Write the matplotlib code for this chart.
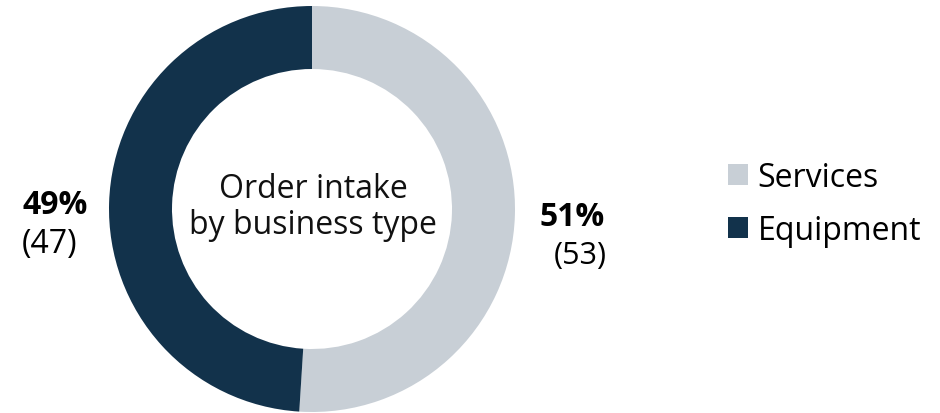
import matplotlib
matplotlib.use("Agg")
import matplotlib.pyplot as plt

labels = ["Services", "Equipment"]
shares = [51, 49]
prev_year = [53, 47]
colors = ["#c8cfd6", "#12324b"]

plt.rcParams["font.family"] = ["Open Sans", "DejaVu Sans"]

fig = plt.figure(figsize=(9.4, 4.14), dpi=100)
ax = fig.add_axes([0, 0, 1, 1])

wedges, _ = ax.pie(shares, center=(312, 204), radius=203, startangle=90,
                   counterclock=False, colors=colors,
                   wedgeprops=dict(width=63, linewidth=0))
ax.set_xlim(0, 940)
ax.set_ylim(0, 414)
ax.set_aspect("equal")
ax.axis("off")

# centre caption
ax.text(313, 207, "Order intake\nby business type", ha="center", va="center",
        fontsize=23, linespacing=1.12, color="#111111")

# share labels
ax.text(605, 196, f"{shares[0]}%", ha="right", va="center", fontsize=23, fontweight="bold")
ax.text(607, 158, f"({prev_year[0]})", ha="right", va="center", fontsize=22)
ax.text(22, 209, f"{shares[1]}%", ha="left", va="center", fontsize=23, fontweight="bold")
ax.text(22, 169, f"({prev_year[1]})", ha="left", va="center", fontsize=23)

leg = ax.legend(wedges, labels, loc="center left", bbox_to_anchor=(728, 209),
                bbox_transform=ax.transData, frameon=False, fontsize=23,
                handlelength=0.62, handleheight=0.62, handletextpad=0.31,
                labelspacing=0.63, borderpad=0, borderaxespad=0)

fig.savefig("out.png", dpi=100)
